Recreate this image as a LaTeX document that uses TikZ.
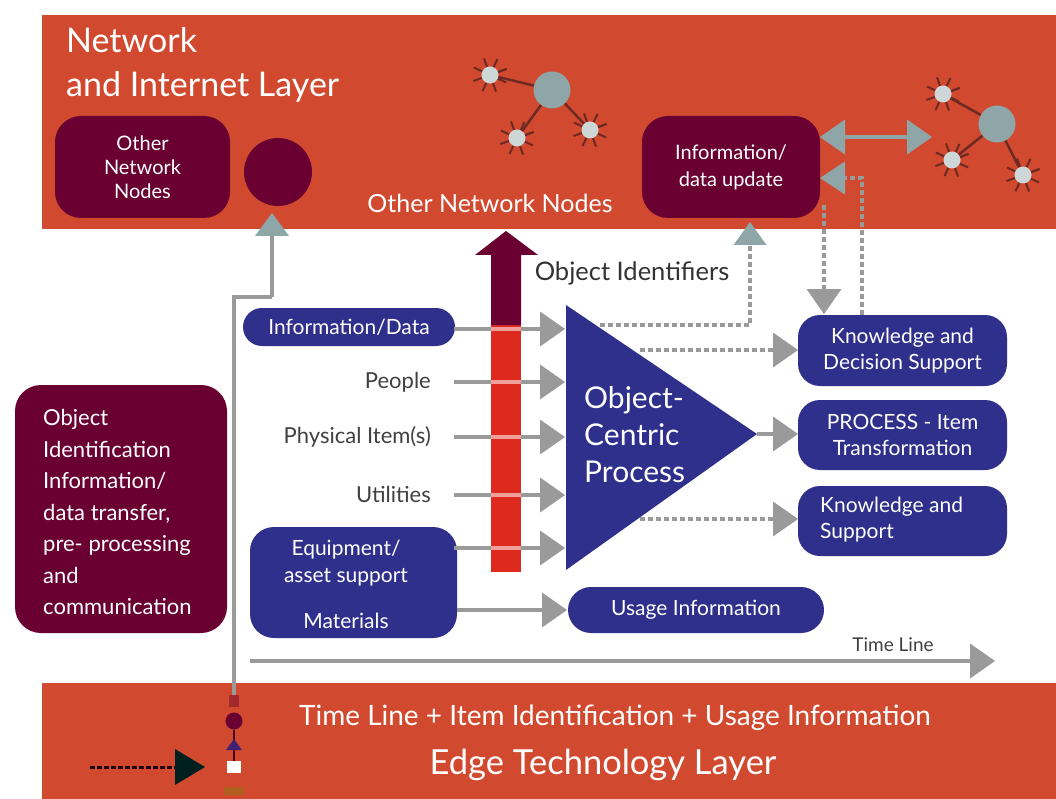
\documentclass[tikz,border=0pt]{standalone}
\usepackage{fontspec}
\setmainfont{Lato}
\usetikzlibrary{arrows.meta}
\definecolor{bandred}{HTML}{D14A30}
\definecolor{darkwine}{HTML}{6A0032}
\definecolor{navyblue}{HTML}{2F2F8C}
\definecolor{arrowgrey}{HTML}{9A9A9A}
\definecolor{tealgrey}{HTML}{8FA6A8}
\definecolor{stemred}{HTML}{DE2A1E}
\definecolor{linkbrown}{HTML}{6E2A22}
\newcommand{\fsz}[1]{\fontsize{#1}{#1}\selectfont}
\begin{document}
\begin{tikzpicture}[x=1pt,y=-1pt,
    wine box/.style={fill=darkwine,text=white,rounded corners=26pt,inner sep=0pt,align=center,font=\fsz{21}},
    navy box/.style={fill=navyblue,text=white,rounded corners=22pt,inner sep=0pt,align=center,font=\fsz{21}},
    input label/.style={text=black!75,anchor=east,inner sep=0pt,font=\fsz{22}},
    band text/.style={text=white,inner sep=0pt,align=center},
    big net/.style={circle,fill=tealgrey,minimum size=37pt,inner sep=0pt},
    small net/.style={circle,fill=tealgrey!45!white,minimum size=17pt,inner sep=0pt},
    solid arrow/.style={color=arrowgrey,line width=4pt,-{Triangle[length=25pt,width=35pt,line width=0pt]}},
    dash arrow/.style={color=arrowgrey,line width=4pt,dash pattern=on 5pt off 3pt,-{Triangle[length=25pt,width=35pt,line width=0pt]}},
    teal arrow/.style={color=tealgrey,line width=4pt,{Triangle[length=25pt,width=35pt,line width=0pt]}-{Triangle[length=25pt,width=35pt,line width=0pt]}},
    net link/.style={color=linkbrown,line width=2.5pt}]
  \useasboundingbox (0,0) rectangle (1056,799);
  % layers
  \fill[bandred] (42,15) rectangle (1056,229);
  \fill[bandred] (42,683) rectangle (1056,799);
  \node[band text,align=left,anchor=west,font=\fsz{34}] (title) at (66,65) {Network\\[10pt]and Internet Layer};
  \node[band text,font=\fsz{25}] (othertext) at (490,203) {Other Network Nodes};
  \node[band text,font=\fsz{28}] (timetext) at (615,718) {Time Line + Item Identification + Usage Information};
  \node[band text,font=\fsz{34.5}] (edgetext) at (603,765) {Edge Technology Layer};
  % network clusters
  \node[big net] (hubA) at (552,90) {};
  \node[small net] (netA) at (490,75) {};
  \node[small net] (netB) at (590,130) {};
  \node[small net] (netC) at (517,138) {};
  \node[big net] (hubB) at (997,124) {};
  \node[small net] (netD) at (943,94) {};
  \node[small net] (netE) at (952,160) {};
  \node[small net] (netF) at (1023,175) {};
  \path
    (hubA) edge [net link] (netA)
    (hubA) edge [net link] (netB)
    (hubA) edge [net link] (netC)
    (hubB) edge [net link] (netD)
    (hubB) edge [net link] (netE)
    (hubB) edge [net link] (netF);
  \foreach \n in {netA,netB,netC,netD,netE,netF}
    \foreach \a in {20,65,...,380}
      \draw[net link,line width=2pt] (\n.\a) -- ++(-\a:9);
  % boxes in the network layer
  \node[wine box,minimum width=175pt,minimum height=102pt,font=\fsz{20}] (othernodes) at (142.5,167) {Other\\[4pt]Network\\[4pt]Nodes};
  \node[circle,fill=darkwine,minimum size=68pt,inner sep=0pt] (gateway) at (278,172) {};
  \node[wine box,minimum width=178pt,minimum height=102pt,font=\fsz{20}] (update) at (731,167) {Information/\\[7pt]data update};
  % left panel
  \node[wine box,minimum width=212pt,minimum height=248pt,align=left] (transfer) at (121,509) {};
  \node[text=white,inner sep=0pt,anchor=west,align=left,font=\fsz{22}] (transfertext) at (43,512)
    {Object\\[9.5pt]Identification\\[9.5pt]Information/\\[9.5pt]data transfer,\\[9.5pt]pre- processing\\[9.5pt]and\\[9.5pt]communication};
  % up arrow
  \fill[stemred] (491,325) rectangle (521,572);
  \fill[darkwine] (491,325) -- (491,255) -- (475,255) -- (506,231) -- (538,255) -- (521,255) -- (521,325) -- cycle;
  \node[text=black!80,inner sep=0pt,font=\fsz{25.5}] (identifiers) at (632,273) {Object Identifiers};
  % inputs
  \node[navy box,minimum width=212pt,minimum height=38pt,rounded corners=19pt] (information) at (349,327) {Information/Data};
  \node[input label] (people) at (431,382) {People};
  \node[input label] (items) at (431,437) {Physical Item(s)};
  \node[input label] (utilities) at (431,494) {Utilities};
  \node[navy box,minimum width=207pt,minimum height=111pt,rounded corners=24pt] (equipment) at (353.5,582.5) {};
  \node[text=white,inner sep=0pt,align=center,font=\fsz{21}] (equiptext) at (346,563) {Equipment/\\[6pt]asset support};
  \node[text=white,inner sep=0pt,font=\fsz{21}] (materials) at (346,621) {Materials};
  % process triangle
  \coordinate (procA) at (566,305);
  \coordinate (procB) at (566,570);
  \coordinate (proctip) at (757,434);
  \fill[navyblue] (procA) -- (procB) -- (proctip) -- cycle;
  \node[text=white,inner sep=0pt,anchor=west,align=left,font=\fsz{30}] (process) at (584,435) {Object-\\[7pt]Centric\\[7pt]Process};
  % outputs
  \node[navy box,minimum width=209pt,minimum height=71pt] (decision) at (902.5,350.5) {Knowledge and\\[5pt]Decision Support};
  \node[navy box,minimum width=209pt,minimum height=70pt] (transform) at (902.5,435) {PROCESS - Item\\[5pt]Transformation};
  \node[navy box,minimum width=209pt,minimum height=70pt] (support) at (902.5,521) {};
  \node[text=white,inner sep=0pt,anchor=west,align=left,font=\fsz{21}] (supporttext) at (820,520) {Knowledge and\\[5pt]Support};
  \node[navy box,minimum width=256pt,minimum height=46pt,rounded corners=23pt] (usage) at (696,610) {Usage Information};
  % arrow ends
  \foreach \k/\y in {1/329,2/382,3/437,4/495,5/548} {
    \coordinate (out\k) at (454,\y);
    \coordinate (in\k) at (565,\y);
  }
  \coordinate (upstart) at (600,325);
  \coordinate (updateend) at (750,222);
  \coordinate (decstart) at (640,350);
  \coordinate (decend) at (798,350);
  \coordinate (supstart) at (640,519);
  \coordinate (supend) at (798,519);
  \coordinate (usestart) at (457,610);
  \coordinate (useend) at (567,610);
  \coordinate (tipout) at (757,434);
  \coordinate (tipend) at (798,434);
  \coordinate (downstart) at (824,205);
  \coordinate (downend) at (824,314);
  \coordinate (backstart) at (862,315);
  \coordinate (backend) at (820,178);
  \coordinate (hubleft) at (820,137);
  \coordinate (hubright) at (932,137);
  \coordinate (timestart) at (250,661);
  \coordinate (timeend) at (995,661);
  % arrows
  \path
    (out1) edge [solid arrow] (in1)
    (out2) edge [solid arrow] (in2)
    (out3) edge [solid arrow] (in3)
    (out4) edge [solid arrow] (in4)
    (out5) edge [solid arrow] (in5)
    (usestart) edge [solid arrow] (useend)
    (tipout) edge [solid arrow] (tipend)
    (timestart) edge [solid arrow] (timeend);
  \foreach \y in {329,382,437,495,548}
    \fill[stemred!45!white] (491,\y-2) rectangle (521,\y+2);
  \path
    (decstart) edge [dash arrow] (decend)
    (supstart) edge [dash arrow] (supend)
    (downstart) edge [dash arrow] (downend);
  \draw[dash arrow,-{Triangle[length=23pt,width=33pt,line width=0pt,color=tealgrey]}] (upstart) -| (updateend);
  \draw[dash arrow,-{Triangle[length=25pt,width=33pt,line width=0pt,color=tealgrey]}] (backstart) |- (backend);
  \draw[teal arrow] (hubleft) -- (hubright);
  \node[text=black!75,inner sep=0pt,font=\fsz{19}] (timeline) at (893,645) {Time Line};
  % edge device stack
  \node[rectangle,fill=white,minimum width=14pt,minimum height=12pt,inner sep=0pt] (reader) at (234,767) {};
  \node[circle,fill=darkwine,minimum size=17pt,inner sep=0pt] (tagdot) at (234,721) {};
  \node[rectangle,fill=bandred!60!olive,minimum width=20pt,minimum height=8pt,inner sep=0pt] (tagbase) at (234,791) {};
  \node[rectangle,fill=bandred!55!darkwine,minimum width=10pt,minimum height=12pt,inner sep=0pt] (tagtop) at (234,701) {};
  \coordinate (devstart) at (90,767);
  \coordinate (devend) at (205,767);
  \coordinate (upmid) at (272,297);
  \coordinate (gatefoot) at (272,213);
  \draw[color=arrowgrey,line width=3.5pt] (tagtop.north) -- (234,297) -- (upmid);
  \draw[color=arrowgrey,line width=3.5pt,-{Triangle[length=23pt,width=34pt,line width=0pt,color=tealgrey]}] (upmid) -- (gatefoot);
  \draw[color=darkwine!70!black,line width=2.5pt] (tagdot) -- (reader);
  \fill[navyblue!70!darkwine] (226,750) -- (234,739) -- (242,750) -- cycle;
  \draw[color=black!70!darkwine,line width=3pt,dash pattern=on 5pt off 2pt,-{Triangle[length=30pt,width=36pt,line width=0pt,color=black!75!teal]}] (devstart) -- (devend);
\end{tikzpicture}
\end{document}
